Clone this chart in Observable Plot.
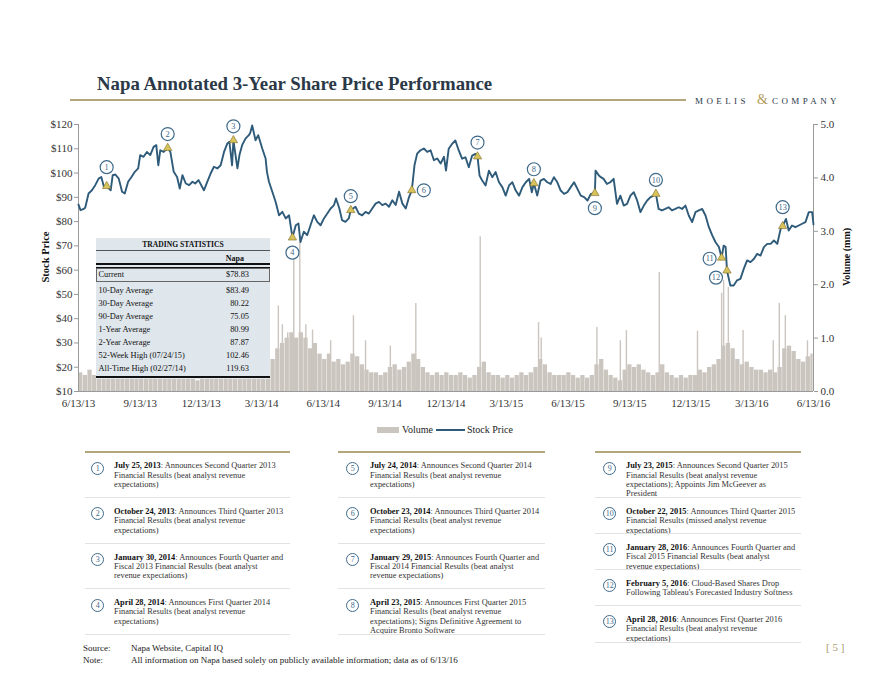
<!DOCTYPE html>
<html>
<head>
<meta charset="utf-8">
<script src="https://cdn.jsdelivr.net/npm/d3@7"></script>
<script src="https://cdn.jsdelivr.net/npm/@observablehq/plot@0.6"></script>
<style>
  body { margin: 0; background: #fff; }
  #page { position: relative; width: 880px; height: 680px; overflow: hidden; font-family: "Liberation Serif", serif; color: #222; }
  .abs { position: absolute; white-space: nowrap; }
  #title { left: 97px; top: 74px; font-size: 18.8px; font-weight: bold; color: #2b3947; line-height: 20px; }
  #rule { left: 70px; top: 99px; width: 616px; height: 2px; background: #b3a57c; }
  #brand { left: 695px; top: 95px; width: 150px; height: 12px; }
  #brand span { position: absolute; top: 0; font-size: 9px; letter-spacing: 3.4px; color: #2b3947; line-height: 12px; }
  #brand span.amp { color: #b39c5c; font-size: 14px; letter-spacing: 0; top: -3px; line-height: 16px; }
  #chart { left: 0; top: 110px; }
  .rot { transform: translate(-50%, -50%) rotate(-90deg); font-weight: bold; font-size: 10.5px; color: #111; }
  #stats { left: 96px; top: 238px; width: 174px; height: 141px; background: #dfe6ec; font-size: 8.4px; color: #111; }
  #stats .r { position: absolute; line-height: 10px; white-space: nowrap; }
  .note { position: absolute; font-size: 8.4px; color: #333; }
  .note .ln { position: absolute; left: 0; height: 9.4px; line-height: 9.4px; white-space: nowrap; }
  .note .dt { font-weight: bold; color: #111; }
  .circ { position: absolute; width: 11px; height: 11px; border: 1.3px solid #3f6a8a; border-radius: 50%; color: #3f6a8a; font-size: 8px; line-height: 11px; text-align: center; background: #fff; }
  .foot { font-size: 9px; color: #222; line-height: 11px; }
</style>
</head>
<body>
<div id="page"></div>
<script>
// ---------------- DATA ----------------
const startDate = "2013-06-13";
const endDate = "2016-06-13";
// [calendar days after 6/13/13, share price $]
const stockPrice = [
  [0,87.0],[3,84.7],[7,85.1],[10,85.7],[15,91.6],[20,92.9],[25,95.0],[30,97.7],[34,98.4],[38,94.3],
  [42,94.6],[48,92.9],[51,99.1],[55,99.4],[60,97.7],[65,92.3],[69,91.6],[74,96.4],[79,98.4],[84,100.5],
  [89,101.9],[92,107.4],[97,106.7],[102,108.7],[107,107.4],[112,110.8],[116,111.5],[119,103.2],[122,109.4],[127,108.7],
  [133,110.3],[137,108.7],[142,100.5],[147,98.4],[151,93.6],[155,99.1],[160,95.7],[165,95.0],[170,96.4],[174,95.7],
  [179,97.1],[187,92.9],[192,96.4],[197,99.8],[202,102.6],[207,101.9],[212,103.2],[217,108.7],[222,112.2],[225,112.9],
  [229,103.2],[231,113.5],[237,101.9],[240,107.4],[244,111.5],[249,114.2],[254,115.6],[256,116.5],[259,119.6],[264,113.5],
  [268,115.6],[274,110.1],[279,106.0],[281,100.5],[284,96.4],[289,92.3],[294,88.1],[299,82.6],[304,84.0],[309,81.3],
  [314,82.6],[317,77.1],[319,73.4],[324,78.5],[328,79.2],[331,71.6],[336,75.8],[341,74.4],[346,78.5],[351,82.6],
  [356,79.9],[361,78.5],[366,81.3],[371,83.3],[376,85.4],[381,86.8],[384,89.5],[389,85.4],[393,80.6],[398,79.9],
  [403,81.3],[406,84.7],[413,86.1],[418,83.3],[423,82.6],[428,84.0],[433,83.3],[438,85.4],[443,87.4],[448,88.1],
  [453,86.8],[458,87.4],[463,86.1],[468,88.8],[473,86.8],[478,92.3],[483,87.4],[488,85.4],[493,90.2],[497,92.9],
  [501,103.2],[505,108.0],[510,109.4],[515,110.1],[520,108.7],[525,109.4],[530,105.3],[535,106.0],[540,103.9],[545,106.7],
  [548,101.0],[552,110.0],[557,112.0],[562,113.4],[567,109.3],[572,105.9],[577,106.5],[582,102.4],[587,107.2],[592,107.9],
  [595,106.8],[598,99.0],[602,96.9],[607,94.9],[612,101.0],[617,98.3],[622,100.4],[627,96.2],[632,94.2],[637,90.7],
  [642,94.9],[647,96.2],[652,92.8],[657,90.7],[662,94.2],[667,96.2],[672,97.6],[676,92.1],[679,95.8],[684,90.7],
  [689,96.9],[694,97.6],[699,96.2],[704,95.5],[709,98.3],[714,96.2],[719,92.8],[724,91.4],[729,92.1],[734,94.2],
  [739,96.2],[744,93.5],[749,90.7],[754,90.1],[759,88.7],[764,91.4],[770,91.7],[771,101.0],[776,99.0],[779,98.3],
  [783,97.6],[788,95.5],[793,96.2],[798,97.6],[803,87.3],[808,90.7],[813,86.6],[818,87.3],[823,90.7],[828,92.1],
  [833,88.7],[838,83.9],[843,86.6],[848,88.7],[853,90.1],[858,90.7],[861,91.4],[865,85.2],[870,84.6],[875,85.2],
  [880,85.9],[885,84.6],[890,85.2],[895,85.9],[900,85.2],[905,86.6],[910,82.5],[915,79.8],[920,83.9],[925,84.6],
  [930,85.2],[935,82.5],[940,77.7],[945,74.3],[950,71.5],[955,69.5],[959,65.1],[962,70.1],[965,69.5],[967,59.8],
  [972,53.7],[977,53.7],[982,55.8],[987,56.4],[992,60.5],[997,64.0],[1002,63.3],[1007,64.6],[1012,66.7],[1017,66.0],
  [1022,69.5],[1027,70.8],[1032,70.8],[1037,72.2],[1042,70.8],[1047,77.0],[1050,78.1],[1055,81.1],[1059,76.3],[1064,78.4],
  [1069,77.7],[1074,78.4],[1079,79.1],[1084,79.8],[1089,83.9],[1094,83.9],[1096,78.8]
];
// weekly typical volume (mm); week n begins 7n days after 6/13/13
const weeklyVolume = [
  0.35,0.3,0.4,0.3,0.3,0.25,0.3,0.35,0.3,0.25,
  0.3,0.3,0.25,0.3,0.35,0.3,0.3,0.25,0.35,0.4,
  0.3,0.3,0.25,0.3,0.25,0.2,0.25,0.3,0.25,0.3,
  0.35,0.3,0.4,0.35,0.4,0.35,0.4,0.45,0.45,0.5,
  0.5,0.6,0.8,0.9,1.0,1.1,1.0,1.1,1.0,0.8,
  0.9,0.7,0.6,0.7,0.55,0.6,0.5,0.55,0.7,0.65,
  0.5,0.4,0.35,0.35,0.3,0.35,0.45,0.5,0.4,0.45,
  0.55,0.7,0.6,0.45,0.35,0.3,0.35,0.3,0.35,0.3,
  0.3,0.35,0.3,0.25,0.3,0.45,0.55,0.35,0.3,0.3,
  0.25,0.3,0.25,0.3,0.35,0.3,0.35,0.45,0.6,0.5,
  0.35,0.3,0.3,0.3,0.35,0.3,0.25,0.3,0.25,0.3,
  0.5,0.6,0.4,0.3,0.25,0.2,0.4,0.5,0.45,0.5,
  0.4,0.35,0.3,0.35,0.5,0.35,0.3,0.25,0.3,0.25,
  0.3,0.3,0.4,0.35,0.45,0.5,0.6,0.85,0.9,0.8,
  0.6,0.5,0.55,0.45,0.4,0.4,0.35,0.4,0.35,0.45,
  0.8,0.85,0.75,0.6,0.55,0.65,0.7
];
// single-day volume spikes: [days after 6/13/13, volume mm]
const volumeSpikes = [
  [298,1.6],[304,1.25],[312,1.1],[321,2.6],[330,2.9],[339,1.25],[349,1.15],[376,0.95],[410,1.42],[428,0.95],
  [465,0.85],[503,1.65],[599,2.9],[686,1.29],[690,1.0],[773,1.2],[808,0.95],[817,1.14],[866,2.23],[923,1.13],
  [959,1.84],[962,2.08],[969,1.95],[991,1.14],[1036,0.95],[1045,1.65],[1054,1.42],[1087,0.95]
];
const eventNumbers = [1,2,3,4,5,6,7,8,9,10,11,12,13];
const eventDates = ["2013-07-25","2013-10-24","2014-01-30","2014-04-28","2014-07-24","2014-10-23","2015-01-29",
  "2015-04-23","2015-07-23","2015-10-22","2016-01-28","2016-02-05","2016-04-28"];
const eventPrices = [94.6,110.3,113.5,73.4,84.7,92.9,106.8,95.8,91.7,91.4,65.1,59.8,78.1];
const eventLabelSide = ["high","up","up","down","up","right","up","up","down","up","left","downleft","high"];
const xTickLabels = ["2013-06-13","2013-09-13","2013-12-13","2014-03-13","2014-06-13","2014-09-13","2014-12-13",
  "2015-03-13","2015-06-13","2015-09-13","2015-12-13","2016-03-13","2016-06-13"];
const priceTicks = [10,20,30,40,50,60,70,80,90,100,110,120];
const volumeTicks = [0,1,2,3,4,5];
const statLabels = ["10-Day Average","30-Day Average","90-Day Average","1-Year Average","2-Year Average","52-Week High (07/24/15)","All-Time High (02/27/14)"];
const statValues = ["$83.49","80.22","75.05","80.99","87.87","102.46","119.63"];
const currentPrice = "$78.83";
const noteDates = ["July 25, 2013","October 24, 2013","January 30, 2014","April 28, 2014","July 24, 2014","October 23, 2014",
  "January 29, 2015","April 23, 2015","July 23, 2015","October 22, 2015","January 28, 2016","February 5, 2016","April 28, 2016"];
const noteTexts = [
  ": Announces Second Quarter 2013\nFinancial Results (beat analyst revenue\nexpectations)",
  ": Announces Third Quarter 2013\nFinancial Results (beat analyst revenue\nexpectations)",
  ": Announces Fourth Quarter and\nFiscal 2013 Financial Results (beat analyst\nrevenue expectations)",
  ": Announces First Quarter 2014\nFinancial Results (beat analyst revenue\nexpectations)",
  ": Announces Second Quarter 2014\nFinancial Results (beat analyst revenue\nexpectations)",
  ": Announces Third Quarter 2014\nFinancial Results (beat analyst revenue\nexpectations)",
  ": Announces Fourth Quarter and\nFiscal 2014 Financial Results (beat analyst\nrevenue expectations)",
  ": Announces First Quarter 2015\nFinancial Results (beat analyst revenue\nexpectations); Signs Definitive Agreement to\nAcquire Bronto Software",
  ": Announces Second Quarter 2015\nFinancial Results (beat analyst revenue\nexpectations); Appoints Jim McGeever as\nPresident",
  ": Announces Third Quarter 2015\nFinancial Results (missed analyst revenue\nexpectations)",
  ": Announces Fourth Quarter and\nFiscal 2015 Financial Results (beat analyst\nrevenue expectations)",
  ": Cloud-Based Shares Drop\nFollowing Tableau's Forecasted Industry Softness",
  ": Announces First Quarter 2016\nFinancial Results (beat analyst revenue\nexpectations)"
];

// ---------------- BUILD ----------------
const parse = d3.utcParse("%Y-%m-%d");
const t0 = parse(startDate), t1 = parse(endDate);
const dayAfter = n => d3.utcDay.offset(t0, n);
// volume is drawn against the price axis: 0.0 mm ↔ $10, 5.0 mm ↔ $120
const volPos = v => 10 + v * 22;

const priceData = stockPrice.map(([d, p]) => ({date: dayAfter(d), price: p}));
const volData = weeklyVolume.map((v, i) => ({x1: dayAfter(7 * i), x2: new Date(Math.min(+dayAfter(7 * i + 7), +t1)), v}));
const spikeData = volumeSpikes.map(([d, v]) => ({date: dayAfter(d), v}));
const events = eventNumbers.map((n, i) => ({n, date: parse(eventDates[i]), price: eventPrices[i], side: eventLabelSide[i]}));

const navy = "#2f5b7a", volFill = "#cbc5bf", axisGray = "#9a9a9a";
const sideOffset = {up: [0, -14], high: [0, -19], down: [0, 15], right: [12, 0], left: [-12, 1], downleft: [-11, 7]};

const labelMarks = Object.entries(sideOffset).flatMap(([side, [dx, dy]]) => {
  const data = events.filter(e => e.side === side);
  return [
    Plot.dot(data, {x: "date", y: "price", dx, dy, r: 6.5, fill: "white", stroke: "#3f6a8a", strokeWidth: 1.2}),
    Plot.text(data, {x: "date", y: "price", dx, dy, text: d => String(d.n), fontSize: 8.3, fill: "#3f6a8a"})
  ];
});

const chart = Plot.plot({
  width: 880, height: 310,
  marginLeft: 78, marginRight: 67, marginTop: 14, marginBottom: 29,
  x: {type: "utc", domain: [t0, t1]},
  y: {domain: [10, 120]},
  style: {fontFamily: "Liberation Serif, serif", fontSize: "11px", color: "#333", background: "transparent"},
  marks: [
    Plot.rect(volData, {x1: "x1", x2: "x2", y1: () => 10, y2: d => volPos(d.v), fill: volFill, insetRight: 0.4}),
    Plot.ruleX(spikeData, {x: "date", y1: () => 10, y2: d => volPos(d.v), stroke: volFill, strokeWidth: 1.4}),
    Plot.ruleY([10], {stroke: axisGray}),
    Plot.ruleX([t0], {stroke: axisGray}),
    Plot.ruleX([t1], {stroke: axisGray}),
    Plot.axisY({ticks: priceTicks, tickFormat: d => "$" + d, tickSize: 4, tickPadding: 2, stroke: axisGray, label: null}),
    Plot.axisY({anchor: "right", ticks: volumeTicks.map(volPos), tickFormat: d => ((d - 10) / 22).toFixed(1), tickSize: 4, tickPadding: 3, stroke: axisGray, label: null}),
    Plot.axisX({ticks: xTickLabels.map(parse), tickFormat: d3.utcFormat("%-m/%-d/%y"), tickSize: 0, tickPadding: 8, label: null}),
    Plot.line(priceData, {x: "date", y: "price", stroke: navy, strokeWidth: 1.9}),
    Plot.dot(events, {x: "date", y: "price", symbol: "triangle", r: 3.1, fill: "#d8c25a", stroke: "#7d6d2a", strokeWidth: 0.6}),
    ...labelMarks
  ]
});

const page = document.getElementById("page");
function add(html, cls, style, parent) {
  const el = document.createElement("div");
  el.className = cls || "abs";
  if (style) el.setAttribute("style", style);
  el.innerHTML = html;
  (parent || page).appendChild(el);
  return el;
}
add("Napa Annotated 3-Year Share Price Performance", "abs").id = "title";
add("", "abs").id = "rule";
const brand = add("", "abs"); brand.id = "brand";
brand.innerHTML = '<span style="left:0">MOELIS</span><span class="amp" style="left:62px">&amp;</span><span style="left:77px">COMPANY</span>';
const chartDiv = add("", "abs"); chartDiv.id = "chart"; chartDiv.appendChild(chart);
add("Stock Price", "abs rot", "left:45px; top:257px;");
add("Volume (mm)", "abs rot", "left:846px; top:257px; font-size:10px;");

// trading statistics box
const st = add("", "abs"); st.id = "stats";
function sr(html, style) { return add(html, "r", style, st); }
sr("TRADING STATISTICS", "left:0; width:174px; top:2px; text-align:center; font-weight:bold; font-size:7.6px;");
sr("", "left:0; width:174px; top:11.5px; height:0; border-top:1px solid #555;");
sr("Napa", "right:26px; top:15.5px; font-weight:bold; font-size:8px;");
sr("", "left:0; width:174px; top:25px; height:0; border-top:2.5px solid #111;");
sr("", "left:0; width:174px; top:28.5px; height:0; border-top:0.8px solid #111;");
sr("", "left:0; width:172px; top:30px; height:12px; border:1px solid #666;");
sr("Current", "left:2.5px; top:31.5px;");
sr(currentPrice, "right:21px; top:31.5px;");
statLabels.forEach((lab, i) => {
  sr(lab, `left:2.5px; top:${47.7 + 13 * i}px;`);
  sr(statValues[i], `right:21px; top:${47.7 + 13 * i}px;`);
});
sr("", "left:0; width:174px; top:137.5px; height:0; border-top:2.5px solid #111;");

// legend
add("", "abs", `left:377px; top:427px; width:22px; height:6px; background:${volFill};`);
add("Volume", "abs", "left:402px; top:424px; font-size:10px; line-height:12px; color:#222;");
add("", "abs", `left:436px; top:429px; width:29px; height:2px; background:${navy};`);
add("Stock Price", "abs", "left:467px; top:424px; font-size:10px; line-height:12px; color:#222;");

// annotation notes
const cols = [
  {x0: 85, x1: 290, cx: 98, tx: 114, items: [0, 1, 2, 3], h: [45.6, 45.6, 45.6, 45.6]},
  {x0: 338, x1: 545, cx: 353, tx: 370, items: [4, 5, 6, 7], h: [45.6, 45.6, 45.6, 45.6]},
  {x0: 595, x1: 801, cx: 610, tx: 626, items: [8, 9, 10, 11, 12], h: [45.6, 36, 36, 36, 36.4]}
];
cols.forEach(c => {
  add("", "abs", `left:${c.x0}px; top:451px; width:${c.x1 - c.x0}px; height:2px; background:#b3a57c;`);
  let top = 452;
  c.items.forEach((k, j) => {
    add(String(eventNumbers[k]), "circ", `left:${c.cx - 6.8}px; top:${top + 16.5 - 6.8}px;`);
    const box = add("", "note", `left:${c.tx}px; top:${top + 9.3}px;`);
    noteTexts[k].split("\n").forEach((line, li) => {
      const ln = add("", "ln", `top:${li * 9.4}px;`, box);
      if (li === 0) {
        const b = document.createElement("span"); b.className = "dt"; b.textContent = noteDates[k]; ln.appendChild(b);
      }
      const s = document.createElement("span"); s.textContent = line; ln.appendChild(s);
    });
    top += c.h[j];
    add("", "abs", `left:${c.x0}px; top:${top - 0.5}px; width:${c.x1 - c.x0}px; height:1px; background:#e2e2e2;`);
  });
});

// footer
add("Source:", "abs foot", "left:83px; top:642.5px;");
add("Napa Website, Capital IQ", "abs foot", "left:131px; top:642.5px;");
add("Note:", "abs foot", "left:83px; top:654.5px;");
add("All information on Napa based solely on publicly available information; data as of 6/13/16", "abs foot", "left:131px; top:654.5px;");
add("[ 5 ]", "abs", "left:826px; top:641px; font-size:11px; color:#a89a70;");
</script>
</body>
</html>
